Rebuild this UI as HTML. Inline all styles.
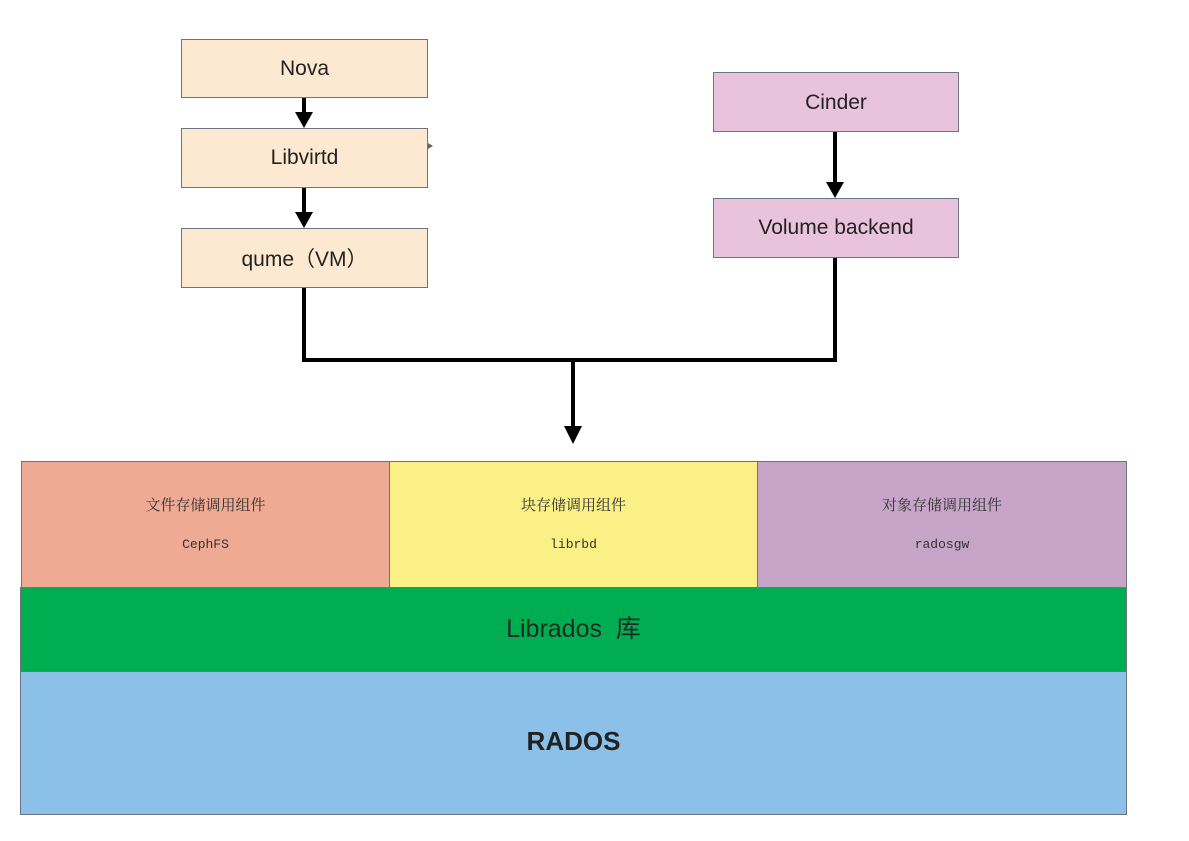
<!DOCTYPE html>
<html><head><meta charset="utf-8"><style>
body{margin:0;width:1189px;height:841px;background:#fff;position:relative;overflow:hidden;font-family:"Liberation Sans","Noto Sans CJK SC",sans-serif}
.b{position:absolute;box-sizing:border-box;border:1px solid #6d7480;display:flex;align-items:center;justify-content:center;color:#222;font-size:21px}
.t{background:#fde9d1}.p{background:#e9c3dc}
.c{flex-direction:column;font-size:15px;color:#333;font-family:"Liberation Serif","Noto Serif CJK SC",serif;padding-bottom:4px}
.c span{display:block}
.m{font-family:"Liberation Mono",monospace;font-size:13px;margin-top:22px}
</style></head><body>
<div class="b t" style="left:181px;top:39px;width:247px;height:59px">Nova</div>
<div class="b t" style="left:181px;top:128px;width:247px;height:60px;padding-bottom:0">Libvirtd</div>
<div class="b t" style="left:181px;top:228px;width:247px;height:60px">qume（VM）</div>
<div class="b p" style="left:713px;top:72px;width:246px;height:60px;padding-top:2px">Cinder</div>
<div class="b p" style="left:713px;top:198px;width:246px;height:60px">Volume backend</div>
<svg width="1189" height="841" style="position:absolute;left:0;top:0">
<g stroke="#000" stroke-width="4" fill="none">
<line x1="304" y1="98" x2="304" y2="114"/>
<line x1="304" y1="188" x2="304" y2="214"/>
<line x1="835" y1="132" x2="835" y2="184"/>
<polyline points="304,288 304,360 835,360 835,258"/>
<line x1="573" y1="360" x2="573" y2="428"/>
</g>
<g fill="#000">
<polygon points="295,112 313,112 304,128"/>
<polygon points="295,212 313,212 304,228"/>
<polygon points="826,182 844,182 835,198"/>
<polygon points="564,426 582,426 573,444"/>
</g>
<polygon points="428,143 433,146 428,149" fill="#666"/>
</svg>
<div class="b c" style="left:21px;top:461px;width:369px;height:127px;background:#eeaa93"><span>文件存储调用组件</span><span class="m">CephFS</span></div>
<div class="b c" style="left:389px;top:461px;width:369px;height:127px;background:#fbf086"><span>块存储调用组件</span><span class="m">librbd</span></div>
<div class="b c" style="left:757px;top:461px;width:370px;height:127px;background:#c6a5c8"><span>对象存储调用组件</span><span class="m">radosgw</span></div>
<div class="b" style="left:20px;top:587px;width:1107px;height:85px;background:#00ad50;font-size:25px;color:#1f2a22;padding-bottom:6px">Librados&nbsp; 库</div>
<div class="b" style="left:20px;top:671px;width:1107px;height:144px;background:#8bc0e8;font-size:26px;font-weight:bold;color:#222;padding-bottom:4px">RADOS</div>
</body></html>
